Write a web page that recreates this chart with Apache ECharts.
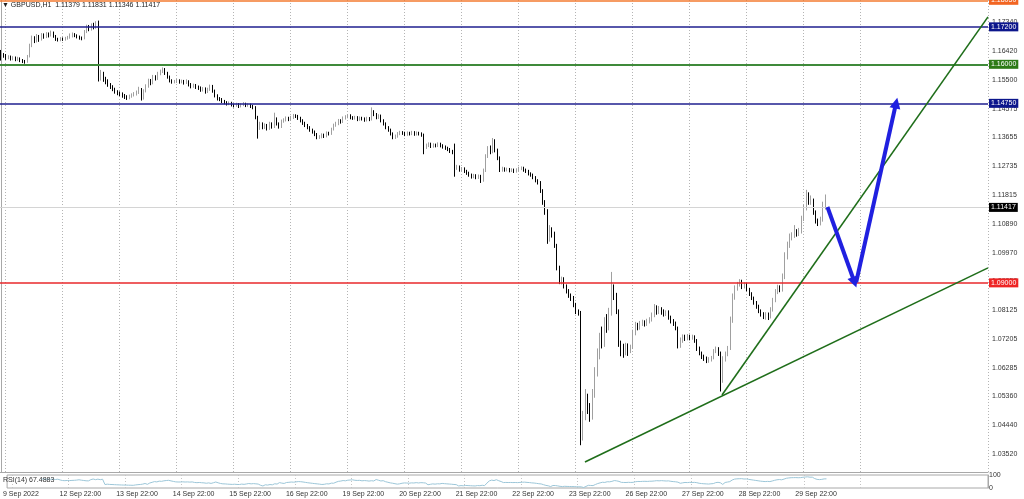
<!DOCTYPE html>
<html><head><meta charset="utf-8">
<script src="https://cdn.jsdelivr.net/npm/echarts@6/dist/echarts.min.js"></script>
<style>html,body{margin:0;padding:0;background:#fff}#c{width:1024px;height:499px}</style>
</head><body><div id="c"></div>
<script>
// trading sessions: day label, first hour, last hour (hourly bars)
const sessions = [
  ['9 Sep', 20, 23], ['12 Sep', 0, 23], ['13 Sep', 0, 23], ['14 Sep', 0, 23], ['15 Sep', 0, 23],
  ['16 Sep', 0, 23], ['19 Sep', 0, 23], ['20 Sep', 0, 23], ['21 Sep', 0, 23], ['22 Sep', 0, 23],
  ['23 Sep', 0, 23], ['26 Sep', 0, 23], ['27 Sep', 0, 23], ['28 Sep', 0, 23], ['29 Sep', 0, 23],
  ['30 Sep', 0, 23], ['3 Oct', 0, 23], ['4 Oct', 0, 23], ['5 Oct', 0, 3]
];
const firstLabel = '9 Sep 2022';
const title = 'GBPUSD,H1  1.11379 1.11831 1.11346 1.11417';
const rsiTitle = 'RSI(14) 67.4883';

// hourly candles [open, close, low, high]
const candles = [
[1.1640,1.1630,1.1612,1.1646],[1.1630,1.1628,1.1621,1.1636],[1.1628,1.1620,1.1614,1.1633],[1.1620,1.1624,1.1616,1.1629],
[1.1624,1.1618,1.1612,1.1628],[1.1618,1.1621,1.1613,1.1626],[1.1621,1.1615,1.1610,1.1625],[1.1615,1.1619,1.1611,1.1624],
[1.1619,1.1612,1.1607,1.1622],[1.1612,1.1610,1.1604,1.1617],[1.1610,1.1608,1.1602,1.1614],[1.1608,1.1625,1.1605,1.1630],
[1.1625,1.1660,1.1622,1.1666],[1.1660,1.1685,1.1655,1.1692],[1.1685,1.1675,1.1668,1.1690],[1.1675,1.1690,1.1670,1.1697],
[1.1690,1.1680,1.1672,1.1694],[1.1680,1.1695,1.1676,1.1700],[1.1695,1.1688,1.1682,1.1699],[1.1688,1.1698,1.1684,1.1703],
[1.1698,1.1692,1.1686,1.1702],[1.1692,1.1702,1.1689,1.1708],[1.1702,1.1690,1.1685,1.1705],[1.1690,1.1680,1.1675,1.1694],
[1.1680,1.1678,1.1673,1.1685],[1.1678,1.1682,1.1674,1.1687],[1.1682,1.1680,1.1675,1.1686],[1.1680,1.1684,1.1676,1.1688],
[1.1684,1.1686,1.1679,1.1691],[1.1686,1.1690,1.1682,1.1699],[1.1690,1.1697,1.1686,1.1702],[1.1697,1.1692,1.1687,1.1700],
[1.1692,1.1688,1.1683,1.1696],[1.1688,1.1684,1.1679,1.1692],[1.1684,1.1683,1.1677,1.1689],[1.1683,1.1705,1.1680,1.1710],
[1.1705,1.1720,1.1700,1.1727],[1.1720,1.1712,1.1706,1.1726],[1.1712,1.1725,1.1708,1.1731],[1.1725,1.1718,1.1712,1.1733],
[1.1718,1.1730,1.1714,1.1738],[1.1730,1.1560,1.1545,1.1740],[1.1560,1.1570,1.1548,1.1582],[1.1570,1.1552,1.1544,1.1576],
[1.1552,1.1545,1.1536,1.1560],[1.1545,1.1535,1.1528,1.1552],[1.1535,1.1528,1.1521,1.1540],[1.1528,1.1520,1.1514,1.1533],
[1.1520,1.1512,1.1506,1.1525],[1.1512,1.1508,1.1501,1.1517],[1.1508,1.1505,1.1498,1.1513],[1.1505,1.1500,1.1493,1.1510],
[1.1500,1.1496,1.1489,1.1505],[1.1496,1.1492,1.1486,1.1501],[1.1492,1.1498,1.1488,1.1503],[1.1498,1.1502,1.1493,1.1507],
[1.1502,1.1505,1.1497,1.1511],[1.1505,1.1510,1.1500,1.1516],[1.1510,1.1520,1.1505,1.1528],[1.1520,1.1490,1.1484,1.1524],
[1.1490,1.1515,1.1487,1.1520],[1.1515,1.1530,1.1510,1.1536],[1.1530,1.1548,1.1525,1.1554],[1.1548,1.1540,1.1533,1.1553],
[1.1540,1.1560,1.1536,1.1566],[1.1560,1.1555,1.1548,1.1565],[1.1555,1.1570,1.1550,1.1576],[1.1570,1.1578,1.1565,1.1583],
[1.1578,1.1585,1.1572,1.1590],[1.1585,1.1572,1.1566,1.1588],[1.1572,1.1560,1.1554,1.1576],[1.1560,1.1548,1.1542,1.1564],
[1.1548,1.1545,1.1538,1.1552],[1.1545,1.1545,1.1539,1.1550],[1.1545,1.1548,1.1540,1.1553],[1.1548,1.1544,1.1538,1.1552],
[1.1544,1.1546,1.1539,1.1551],[1.1546,1.1542,1.1535,1.1550],[1.1542,1.1545,1.1537,1.1552],[1.1545,1.1535,1.1529,1.1549],
[1.1535,1.1530,1.1523,1.1540],[1.1530,1.1533,1.1525,1.1538],[1.1533,1.1528,1.1521,1.1537],[1.1528,1.1525,1.1518,1.1532],
[1.1525,1.1518,1.1512,1.1529],[1.1518,1.1522,1.1513,1.1527],[1.1522,1.1512,1.1506,1.1526],[1.1512,1.1520,1.1508,1.1525],
[1.1520,1.1530,1.1515,1.1535],[1.1530,1.1515,1.1509,1.1534],[1.1515,1.1500,1.1494,1.1519],[1.1500,1.1490,1.1484,1.1504],
[1.1490,1.1488,1.1482,1.1495],[1.1488,1.1482,1.1476,1.1492],[1.1482,1.1478,1.1472,1.1486],[1.1478,1.1474,1.1468,1.1482],
[1.1474,1.1476,1.1469,1.1481],[1.1476,1.1470,1.1465,1.1480],[1.1470,1.1468,1.1462,1.1474],[1.1468,1.1472,1.1464,1.1477],
[1.1472,1.1466,1.1460,1.1476],[1.1466,1.1470,1.1462,1.1475],[1.1470,1.1474,1.1466,1.1479],[1.1474,1.1468,1.1463,1.1477],
[1.1468,1.1470,1.1464,1.1475],[1.1470,1.1466,1.1460,1.1474],[1.1466,1.1462,1.1456,1.1470],[1.1462,1.1430,1.1424,1.1466],
[1.1430,1.1395,1.1362,1.1435],[1.1395,1.1410,1.1390,1.1416],[1.1410,1.1398,1.1392,1.1414],[1.1398,1.1405,1.1393,1.1411],
[1.1405,1.1395,1.1388,1.1409],[1.1395,1.1410,1.1390,1.1416],[1.1410,1.1400,1.1394,1.1414],[1.1400,1.1425,1.1396,1.1445],
[1.1425,1.1410,1.1404,1.1430],[1.1410,1.1400,1.1394,1.1414],[1.1400,1.1418,1.1396,1.1423],[1.1418,1.1422,1.1413,1.1427],
[1.1422,1.1428,1.1417,1.1433],[1.1428,1.1424,1.1418,1.1432],[1.1424,1.1430,1.1419,1.1435],[1.1430,1.1436,1.1425,1.1441],
[1.1436,1.1434,1.1428,1.1440],[1.1434,1.1428,1.1422,1.1438],[1.1428,1.1420,1.1414,1.1432],[1.1420,1.1412,1.1406,1.1424],
[1.1412,1.1405,1.1399,1.1416],[1.1405,1.1398,1.1392,1.1409],[1.1398,1.1390,1.1384,1.1402],[1.1390,1.1384,1.1378,1.1394],
[1.1384,1.1376,1.1370,1.1388],[1.1376,1.1366,1.1360,1.1380],[1.1366,1.1368,1.1361,1.1373],[1.1368,1.1374,1.1363,1.1379],
[1.1374,1.1370,1.1364,1.1378],[1.1370,1.1380,1.1366,1.1385],[1.1380,1.1378,1.1372,1.1384],[1.1378,1.1392,1.1374,1.1397],
[1.1392,1.1405,1.1388,1.1410],[1.1405,1.1410,1.1400,1.1416],[1.1410,1.1420,1.1405,1.1425],[1.1420,1.1416,1.1410,1.1424],
[1.1416,1.1428,1.1412,1.1433],[1.1428,1.1432,1.1423,1.1437],[1.1432,1.1436,1.1427,1.1441],[1.1436,1.1430,1.1424,1.1440],
[1.1430,1.1428,1.1422,1.1434],[1.1428,1.1430,1.1423,1.1435],[1.1430,1.1424,1.1418,1.1434],[1.1424,1.1428,1.1419,1.1433],
[1.1428,1.1426,1.1420,1.1432],[1.1426,1.1422,1.1416,1.1430],[1.1422,1.1427,1.1417,1.1432],[1.1427,1.1424,1.1418,1.1431],
[1.1424,1.1448,1.1420,1.1462],[1.1448,1.1440,1.1434,1.1453],[1.1440,1.1430,1.1424,1.1444],[1.1430,1.1435,1.1425,1.1440],
[1.1435,1.1420,1.1414,1.1439],[1.1420,1.1410,1.1404,1.1424],[1.1410,1.1398,1.1392,1.1414],[1.1398,1.1390,1.1384,1.1402],
[1.1390,1.1378,1.1372,1.1394],[1.1378,1.1366,1.1360,1.1382],[1.1366,1.1370,1.1361,1.1375],[1.1370,1.1378,1.1365,1.1383],
[1.1378,1.1382,1.1373,1.1387],[1.1382,1.1380,1.1374,1.1386],[1.1380,1.1376,1.1370,1.1384],[1.1376,1.1380,1.1371,1.1385],
[1.1380,1.1378,1.1372,1.1384],[1.1378,1.1382,1.1373,1.1387],[1.1382,1.1377,1.1371,1.1386],[1.1377,1.1380,1.1372,1.1385],
[1.1380,1.1378,1.1372,1.1384],[1.1378,1.1374,1.1368,1.1382],[1.1374,1.1335,1.1312,1.1378],[1.1335,1.1340,1.1329,1.1346],
[1.1340,1.1345,1.1335,1.1350],[1.1345,1.1338,1.1332,1.1349],[1.1338,1.1342,1.1333,1.1347],[1.1342,1.1340,1.1334,1.1346],
[1.1340,1.1345,1.1335,1.1350],[1.1345,1.1340,1.1334,1.1349],[1.1340,1.1336,1.1330,1.1344],[1.1336,1.1332,1.1326,1.1340],
[1.1332,1.1328,1.1322,1.1336],[1.1328,1.1322,1.1316,1.1332],[1.1322,1.1318,1.1312,1.1326],[1.1318,1.1268,1.1240,1.1346],
[1.1268,1.1272,1.1262,1.1278],[1.1272,1.1262,1.1256,1.1276],[1.1262,1.1266,1.1257,1.1271],[1.1266,1.1258,1.1252,1.1270],
[1.1258,1.1252,1.1246,1.1262],[1.1252,1.1246,1.1240,1.1256],[1.1246,1.1240,1.1234,1.1250],[1.1240,1.1244,1.1235,1.1249],
[1.1244,1.1238,1.1232,1.1248],[1.1238,1.1242,1.1233,1.1247],[1.1242,1.1228,1.1220,1.1246],[1.1228,1.1260,1.1224,1.1266],
[1.1260,1.1305,1.1255,1.1312],[1.1305,1.1330,1.1300,1.1338],[1.1330,1.1320,1.1312,1.1340],[1.1320,1.1350,1.1315,1.1364],
[1.1350,1.1325,1.1318,1.1360],[1.1325,1.1300,1.1293,1.1330],[1.1300,1.1262,1.1255,1.1305],[1.1262,1.1266,1.1256,1.1272],
[1.1266,1.1262,1.1256,1.1270],[1.1262,1.1264,1.1257,1.1269],[1.1264,1.1260,1.1254,1.1268],[1.1260,1.1262,1.1255,1.1267],
[1.1262,1.1258,1.1252,1.1266],[1.1258,1.1262,1.1253,1.1267],[1.1262,1.1266,1.1257,1.1272],[1.1266,1.1268,1.1261,1.1273],
[1.1268,1.1262,1.1256,1.1272],[1.1262,1.1258,1.1252,1.1266],[1.1258,1.1250,1.1244,1.1262],[1.1250,1.1246,1.1240,1.1254],
[1.1246,1.1238,1.1232,1.1250],[1.1238,1.1228,1.1222,1.1242],[1.1228,1.1222,1.1215,1.1232],[1.1222,1.1195,1.1188,1.1226],
[1.1195,1.1160,1.1150,1.1200],[1.1160,1.1130,1.1118,1.1165],[1.1130,1.1040,1.1025,1.1136],[1.1040,1.1065,1.1032,1.1085],
[1.1065,1.1058,1.1045,1.1078],[1.1058,1.1020,1.1012,1.1064],[1.1020,1.0950,1.0940,1.1025],[1.0950,1.0905,1.0896,1.0955],
[1.0905,1.0912,1.0895,1.0920],[1.0912,1.0890,1.0882,1.0918],[1.0890,1.0875,1.0866,1.0895],[1.0875,1.0860,1.0852,1.0880],
[1.0860,1.0852,1.0842,1.0866],[1.0852,1.0830,1.0822,1.0858],[1.0830,1.0810,1.0800,1.0836],[1.0810,1.0805,1.0795,1.0815],
[1.0805,1.0410,1.0380,1.0810],[1.0410,1.0470,1.0395,1.0490],[1.0470,1.0535,1.0460,1.0560],[1.0535,1.0500,1.0480,1.0545],
[1.0500,1.0470,1.0455,1.0515],[1.0470,1.0540,1.0462,1.0560],[1.0540,1.0610,1.0532,1.0630],[1.0610,1.0665,1.0600,1.0690],
[1.0665,1.0720,1.0655,1.0740],[1.0720,1.0700,1.0690,1.0760],[1.0700,1.0765,1.0695,1.0790],[1.0765,1.0755,1.0740,1.0800],
[1.0755,1.0800,1.0748,1.0820],[1.0800,1.0885,1.0795,1.0935],[1.0885,1.0860,1.0845,1.0895],[1.0860,1.0810,1.0800,1.0868],
[1.0810,1.0705,1.0695,1.0815],[1.0705,1.0690,1.0665,1.0715],[1.0690,1.0685,1.0660,1.0705],[1.0685,1.0700,1.0668,1.0708],
[1.0700,1.0688,1.0666,1.0706],[1.0688,1.0695,1.0675,1.0702],[1.0695,1.0740,1.0688,1.0750],[1.0740,1.0765,1.0732,1.0775],
[1.0765,1.0758,1.0748,1.0772],[1.0758,1.0770,1.0750,1.0778],[1.0770,1.0775,1.0762,1.0782],[1.0775,1.0768,1.0760,1.0780],
[1.0768,1.0778,1.0762,1.0785],[1.0778,1.0782,1.0770,1.0790],[1.0782,1.0795,1.0776,1.0805],[1.0795,1.0812,1.0790,1.0832],
[1.0812,1.0805,1.0798,1.0828],[1.0805,1.0815,1.0800,1.0826],[1.0815,1.0808,1.0798,1.0822],[1.0808,1.0800,1.0792,1.0815],
[1.0800,1.0806,1.0794,1.0812],[1.0806,1.0790,1.0782,1.0812],[1.0790,1.0778,1.0770,1.0795],[1.0778,1.0770,1.0762,1.0784],
[1.0770,1.0755,1.0748,1.0776],[1.0755,1.0700,1.0690,1.0760],[1.0700,1.0715,1.0692,1.0725],[1.0715,1.0728,1.0708,1.0735],
[1.0728,1.0722,1.0714,1.0734],[1.0722,1.0730,1.0716,1.0736],[1.0730,1.0724,1.0716,1.0734],[1.0724,1.0728,1.0718,1.0734],
[1.0728,1.0715,1.0708,1.0732],[1.0715,1.0690,1.0682,1.0720],[1.0690,1.0675,1.0668,1.0696],[1.0675,1.0665,1.0656,1.0680],
[1.0665,1.0658,1.0650,1.0670],[1.0658,1.0650,1.0643,1.0664],[1.0650,1.0656,1.0644,1.0662],[1.0656,1.0660,1.0648,1.0666],
[1.0660,1.0682,1.0655,1.0688],[1.0682,1.0690,1.0675,1.0696],[1.0690,1.0675,1.0666,1.0694],[1.0675,1.0590,1.0552,1.0680],
[1.0590,1.0655,1.0580,1.0665],[1.0655,1.0672,1.0648,1.0680],[1.0672,1.0690,1.0665,1.0698],[1.0690,1.0780,1.0685,1.0792],
[1.0780,1.0855,1.0772,1.0866],[1.0855,1.0882,1.0846,1.0892],[1.0882,1.0895,1.0875,1.0903],[1.0895,1.0903,1.0888,1.0912],
[1.0903,1.0888,1.0880,1.0910],[1.0888,1.0895,1.0882,1.0902],[1.0895,1.0880,1.0873,1.0900],[1.0880,1.0866,1.0858,1.0884],
[1.0866,1.0852,1.0845,1.0870],[1.0852,1.0838,1.0830,1.0856],[1.0838,1.0825,1.0817,1.0842],[1.0825,1.0810,1.0803,1.0830],
[1.0810,1.0800,1.0792,1.0815],[1.0800,1.0792,1.0784,1.0806],[1.0792,1.0800,1.0782,1.0806],[1.0800,1.0792,1.0781,1.0805],
[1.0792,1.0815,1.0786,1.0822],[1.0815,1.0845,1.0808,1.0852],[1.0845,1.0872,1.0838,1.0880],[1.0872,1.0886,1.0864,1.0894],
[1.0886,1.0878,1.0870,1.0892],[1.0878,1.0920,1.0872,1.0930],[1.0920,1.0985,1.0912,1.0998],[1.0985,1.1020,1.0975,1.1032],
[1.1020,1.1045,1.1012,1.1058],[1.1045,1.1052,1.1036,1.1062],[1.1052,1.1060,1.1044,1.1085],[1.1060,1.1056,1.1048,1.1072],
[1.1056,1.1066,1.1050,1.1076],[1.1066,1.1105,1.1058,1.1115],[1.1105,1.1140,1.1098,1.1150],[1.1140,1.1170,1.1132,1.1198],
[1.1170,1.1160,1.1150,1.1190],[1.1160,1.1165,1.1150,1.1180],[1.1165,1.1125,1.1118,1.1170],[1.1125,1.1098,1.1090,1.1132],
[1.1098,1.1090,1.1082,1.1106],[1.1090,1.1105,1.1084,1.1112],[1.1105,1.1138,1.1096,1.1160],[1.11379,1.11417,1.11346,1.11831]
];

// right price-scale tick labels
const yTicks = [1.03520,1.04440,1.05360,1.06285,1.07205,1.08125,1.09050,1.09970,1.10890,1.11815,1.12735,1.13655,1.14575,1.15500,1.16420,1.17340];
// horizontal level lines drawn on the chart
const levelPrices = [1.18050, 1.17200, 1.16000, 1.14750, 1.09000];
const lastPrice = 1.11417;
// trend lines and forecast arrows: [bar index, price] anchors
const trendLines = [
  [[245.8, 1.0326], [415.5, 1.0948]],
  [[303.5, 1.0541], [415.5, 1.1752]]
];
const forecastArrows = [
  [[347.9, 1.1143], [359.3, 1.0902]],
  [[360.0, 1.0902], [376.8, 1.1476]]
];

// ---------- build ----------
const categories = [];
sessions.forEach(([d, h0, h1]) => { for (let h = h0; h <= h1; h++) categories.push(d + ' ' + String(h).padStart(2, '0') + ':00'); });
const nSlots = 416;
categories.length = nSlots;
const lastIdx = candles.length - 1;
const closes = candles.map(c => c[1]);
function rsi(cl, n) {
  const out = cl.map(() => null);
  let g = 0, l = 0;
  for (let i = 1; i <= n; i++) { const d = cl[i] - cl[i - 1]; if (d > 0) g += d; else l -= d; }
  g /= n; l /= n;
  out[n] = l === 0 ? 100 : 100 - 100 / (1 + g / l);
  for (let i = n + 1; i < cl.length; i++) {
    const d = cl[i] - cl[i - 1];
    g = (g * (n - 1) + Math.max(d, 0)) / n;
    l = (l * (n - 1) + Math.max(-d, 0)) / n;
    out[i] = l === 0 ? 100 : 100 - 100 / (1 + g / l);
  }
  return out;
}
const rsiVals = rsi(closes, 14);

const levelColors = ['#f37a2f', '#1f1f8f', '#3f8a3a', '#1f1f8f', '#e8282b'];
const levelBg = ['#f26522', '#0c168c', '#2d7a16', '#0c168c', '#ee2424'];
const FONT = 'Liberation Sans';

const markData = levelPrices.map((p, k) => ({
  yAxis: p,
  lineStyle: { color: levelColors[k], width: k === 2 ? 2 : 1.5, type: 'solid' },
  label: { show: true, position: 'end', distance: 1, formatter: p.toFixed(5), color: '#fff',
    backgroundColor: levelBg[k], padding: [1, 2, 1, 2], fontSize: 7, lineHeight: 7, fontFamily: FONT }
}));
markData.push({
  yAxis: lastPrice,
  lineStyle: { color: '#d4d4d4', width: 1, type: 'solid' },
  label: { show: true, position: 'end', distance: 1, formatter: lastPrice.toFixed(5), color: '#fff',
    backgroundColor: '#000', padding: [1, 2, 1, 2], fontSize: 7, lineHeight: 7, fontFamily: FONT }
});

const isGrid = (index, value) => typeof value === 'string' && value.endsWith('22:00') && index <= lastIdx + 24;

const chart = echarts.init(document.getElementById('c'), null, { renderer: 'canvas' });
chart.setOption({
  animation: false,
  backgroundColor: '#fff',
  title: [
    { text: '\u25BC ' + title, left: 2, top: 2, padding: 0, textStyle: { fontSize: 7, fontWeight: 'normal', color: '#222', fontFamily: FONT } },
    { text: rsiTitle, left: 3, top: 477, padding: 0, textStyle: { fontSize: 7, fontWeight: 'normal', color: '#333', fontFamily: FONT } }
  ],
  grid: [
    { left: 0, right: 36, top: 0, height: 472, show: false },
    { left: 0, right: 36, top: 475, height: 13, show: true, borderColor: '#a8a8a8', borderWidth: 1 }
  ],
  xAxis: [
    { type: 'category', gridIndex: 0, data: categories, boundaryGap: true,
      axisLine: { show: true, lineStyle: { color: '#a8a8a8' } }, axisTick: { show: false }, axisLabel: { show: false },
      splitLine: { show: true, interval: isGrid, lineStyle: { color: '#b4b4b4', type: [1, 2], width: 1 } } },
    { type: 'category', gridIndex: 1, data: categories, boundaryGap: true,
      axisLine: { show: false }, axisTick: { show: false },
      axisLabel: { show: true, interval: (i, v) => i <= lastIdx && isGrid(i, v), margin: 3, align: 'left',
        padding: [0, 0, 0, -10], fontSize: 7, color: '#333', fontFamily: FONT,
        formatter: (v, i) => (i === 2 ? firstLabel : v) },
      splitLine: { show: true, interval: isGrid, lineStyle: { color: '#c4c4c4', type: [1, 2], width: 1 } } },
    { type: 'value', gridIndex: 0, min: -0.5, max: nSlots - 0.5, show: false }
  ],
  yAxis: [
    { type: 'value', gridIndex: 0, position: 'right', min: 1.02942, max: 1.18060, scale: true,
      axisLine: { show: true, lineStyle: { color: '#a8a8a8' } }, axisTick: { show: false },
      axisLabel: { show: true, customValues: yTicks, formatter: v => v.toFixed(5), margin: 4, fontSize: 7, color: '#333', fontFamily: FONT },
      splitLine: { show: false } },
    { type: 'value', gridIndex: 1, position: 'right', min: 0, max: 100,
      axisLine: { show: true, lineStyle: { color: '#a8a8a8' } }, axisTick: { show: false },
      axisLabel: { show: true, customValues: [100, 0], margin: 1, fontSize: 7, color: '#333', fontFamily: FONT },
      splitLine: { show: false } }
  ],
  series: [
    { type: 'candlestick', xAxisIndex: 0, yAxisIndex: 0, data: candles, barWidth: 1,
      itemStyle: { color: '#ffffff', borderColor: '#a0a0a0', color0: '#000000', borderColor0: '#000000', borderWidth: 1 },
      markLine: { silent: true, symbol: 'none', animation: false, precision: 5, data: markData }
    },
    { type: 'lines', coordinateSystem: 'cartesian2d', xAxisIndex: 2, yAxisIndex: 0, silent: true, z: 5,
      data: trendLines.map(c => ({ coords: c })),
      lineStyle: { color: '#1f6e1a', width: 1.6, opacity: 1 } },
    { type: 'lines', coordinateSystem: 'cartesian2d', xAxisIndex: 2, yAxisIndex: 0, silent: true, z: 6,
      data: forecastArrows.map(c => ({ coords: c })),
      symbol: ['none', 'triangle'], symbolSize: 11,
      lineStyle: { color: '#2020e0', width: 4, opacity: 1 } },
    { type: 'line', xAxisIndex: 1, yAxisIndex: 1, data: rsiVals, showSymbol: false, silent: true,
      lineStyle: { color: '#9cc6d8', width: 1 } }
  ]
});
</script></body></html>
